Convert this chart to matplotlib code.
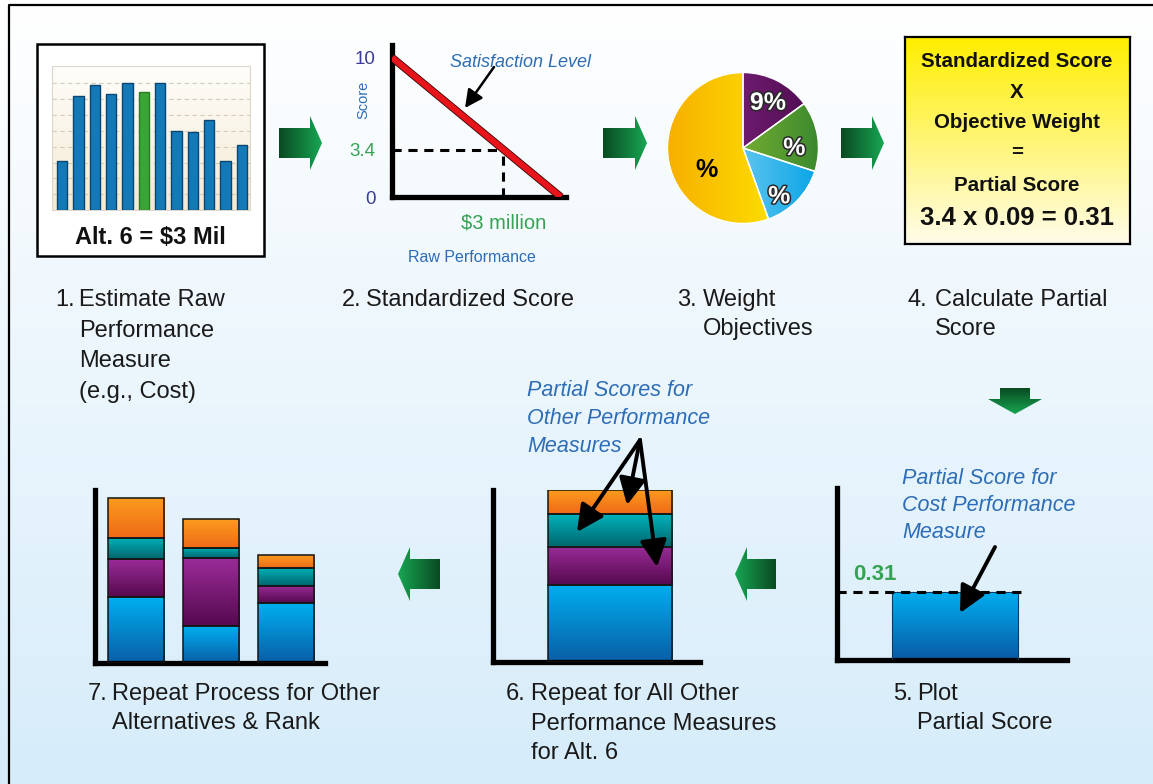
import matplotlib
matplotlib.use("Agg")
import matplotlib.pyplot as plt
import matplotlib.patheffects as pe
import numpy as np
from matplotlib.colors import to_rgba
from matplotlib.patches import Polygon, Rectangle

W, H = 1153, 784

# 1. raw performance (cost) per alternative
alt_ids = list(range(1, 13))
alt_cost = [3.1, 7.2, 7.9, 7.3, 8.0, 7.45, 8.0, 5.0, 4.9, 5.7, 3.1, 4.1]
sel_alt = 6
# 2. standardized score
score_max = 10
std_score = 3.4
# 3. objective weights
weights = [15, 15, 14.5, 55.5]
obj_weight = 0.09
weight_text = [f"{obj_weight * 100:.0f}%", "%", "%", "%"]
# 5. partial score for cost
partial = 0.31
# 6. partial scores of all measures for alt 6 (cost, m2, m3, m4)
alt6_parts = [0.31, 0.153, 0.129, 0.10]
# 7. partial scores for the other alternatives
alt_cost_ps = [0.266, 0.149, 0.242]
alt_m2_ps = [0.153, 0.274, 0.069]
alt_m3_ps = [0.085, 0.044, 0.073]
alt_m4_ps = [0.165, 0.117, 0.052]

SEG = [("#00aff0", "#0a5ea6"), ("#9a2c98", "#55094f"),
       ("#00b3bb", "#00656d"), ("#fc9c1e", "#ef6a18")]
NARROW = ["Liberation Sans"]
ARIAL = ["Liberation Sans"]
BLUE_TXT = "#2d6db5"
GREEN_TXT = "#35a353"
ARROW_DARK, ARROW_LIGHT = "#0a4a22", "#17a652"


def grad(c1, c2, n=128, vertical=True):
    a, b = np.array(to_rgba(c1)), np.array(to_rgba(c2))
    t = np.linspace(0, 1, n)[:, None]
    g = a * (1 - t) + b * t
    return g[:, None, :] if vertical else g[None, :, :]


def paint(ax, patch, img, extent, z):
    im = ax.imshow(img, extent=extent, origin="upper", aspect="auto",
                   interpolation="bilinear", zorder=z)
    im.set_clip_path(patch)
    return im


def shade_bars(ax, bars, top, bot):
    for b in bars:
        x, y, w, h = b.get_x(), b.get_y(), b.get_width(), b.get_height()
        paint(ax, b, grad(top, bot), (x, x + w, y, y + h), b.get_zorder() - 0.5)
        b.set_facecolor("none")


def stacked(ax, x, series, width):
    bottom = np.zeros(len(x))
    for vals, (top, bot) in zip(series, SEG):
        bars = ax.bar(x, vals, width, bottom=bottom, edgecolor="#151515",
                      lw=1.1, zorder=3)
        shade_bars(ax, bars, top, bot)
        bottom += np.array(vals)


def px_axes(x0, y0, x1, y1):
    return fig.add_axes([x0 / W, 1 - y1 / H, (x1 - x0) / W, (y1 - y0) / H])


def frame(ax):
    for s in ("top", "right"):
        ax.spines[s].set_visible(False)
    for s in ("left", "bottom"):
        ax.spines[s].set_linewidth(3.8)
        ax.spines[s].set_color("black")
        ax.spines[s].set_capstyle("projecting")
    ax.set_xticks([]); ax.set_yticks([])
    ax.patch.set_visible(False)


def block_arrow(ax, x0, x1, yc, direction="right", body=30, head=54, hl=12):
    if direction == "right":
        xs = x1 - hl
        pts = [(x0, yc - body / 2), (xs, yc - body / 2), (xs, yc - head / 2), (x1, yc),
               (xs, yc + head / 2), (xs, yc + body / 2), (x0, yc + body / 2)]
        img = grad(ARROW_DARK, ARROW_LIGHT, vertical=False)
    else:
        xs = x0 + hl
        pts = [(x1, yc - body / 2), (xs, yc - body / 2), (xs, yc - head / 2), (x0, yc),
               (xs, yc + head / 2), (xs, yc + body / 2), (x1, yc + body / 2)]
        img = grad(ARROW_LIGHT, ARROW_DARK, vertical=False)
    poly = Polygon(pts, closed=True, fc="none", ec="none")
    ax.add_patch(poly)
    paint(ax, poly, img, (x0, x1, yc + head / 2, yc - head / 2), 2)


def down_arrow(ax, xc, y0, y1, body=30, head=54, hl=15):
    ys = y1 - hl
    pts = [(xc - body / 2, y0), (xc + body / 2, y0), (xc + body / 2, ys), (xc + head / 2, ys),
           (xc, y1), (xc - head / 2, ys), (xc - body / 2, ys)]
    poly = Polygon(pts, closed=True, fc="none", ec="none")
    ax.add_patch(poly)
    paint(ax, poly, grad(ARROW_DARK, ARROW_LIGHT), (xc - head / 2, xc + head / 2, y1, y0), 2)


fig = plt.figure(figsize=(W / 100, H / 100), dpi=100)

# ---- background ----
bg = fig.add_axes([0, 0, 1, 1])
bg.axis("off")
bg.imshow(grad("#ffffff", "#d6ecfa"), extent=(0, W, H, 0), aspect="auto", origin="upper")
bg.add_patch(Rectangle((37, 44), 227, 212, fc="white", ec="black", lw=1.8, zorder=3))
bg.set_xlim(0, W); bg.set_ylim(H, 0)

# ---- 1. raw performance bar chart ----
ax1 = px_axes(52, 66, 250, 210)
ax1.imshow(grad("#fefdf9", "#f4ead3"), extent=(0.38, 12.5, 0, 9.1), aspect="auto", zorder=0)
cols = ["#3aa537" if a == sel_alt else "#147ab7" for a in alt_ids]
edges = ["#2a7a28" if a == sel_alt else "#0a4673" for a in alt_ids]
ax1.bar(alt_ids, alt_cost, 0.62, color=cols, edgecolor=edges, lw=1.0, zorder=3)
ax1.set_xlim(0.38, 12.5); ax1.set_ylim(0, 9.1)
ax1.set_yticks(range(1, 9)); ax1.set_xticks([])
ax1.yaxis.grid(True, ls=(0, (4, 3)), color="#d4ccbc", lw=0.8)
ax1.tick_params(length=0, labelleft=False)
for s in ax1.spines.values():
    s.set_color("#dcd7ca"); s.set_linewidth(0.8)

# ---- 2. standardized score ----
ax2 = px_axes(392, 45, 566, 197)
frame(ax2)
x_star = 1 - std_score / score_max
ax2.plot([0, 1], [score_max, 0], color="#e8141b", lw=4.4, solid_capstyle="butt",
         path_effects=[pe.Stroke(linewidth=5.6, foreground="#3a0505"), pe.Normal()], zorder=4)
ax2.plot([0, x_star], [std_score, std_score], color="black", lw=2.2, ls=(0, (3, 2.2)))
ax2.plot([x_star, x_star], [0, std_score], color="black", lw=2.2, ls=(0, (3, 2.2)))
ax2.set_xlim(0, 1.03); ax2.set_ylim(0, 10.9)
ax2.set_yticks([0, std_score, score_max], ["0", f"{std_score}", f"{score_max}"],
               fontsize=13.5, family=NARROW)
for lab, c in zip(ax2.get_yticklabels(), ["#3c3c96", GREEN_TXT, "#3c3c96"]):
    lab.set_color(c)
ax2.set_xticks([x_star], ["$3 million"], fontsize=14.5, family=NARROW, color=GREEN_TXT)
ax2.tick_params(length=0, pad=12)

# ---- 3. weights pie ----
axp = px_axes(666, 71, 820, 225)
wedges, _ = axp.pie(weights, startangle=90, counterclock=False, radius=1,
                    wedgeprops=dict(edgecolor="white", lw=1))
pie_cols = [("#8e2c8e", "#4c0b4e"), ("#a9ce36", "#3b892e"),
            ("#b0e4f8", "#07a4e6"), ("#f7b000", "#fff200")]
for wdg, (c1, c2) in zip(wedges, pie_cols):
    paint(axp, wdg, grad(c1, c2, vertical=False), (-1, 1, -1, 1), 0.9)
    wdg.set_facecolor("none")
axp.set_xlim(-1.02, 1.02); axp.set_ylim(-1.02, 1.02)
label_xy = [(0.33, 0.6), (0.68, 0.0), (0.48, -0.64), (-0.49, -0.29)]
shadow = [pe.withStroke(linewidth=2.2, foreground="#2a2a2a")]
for (lx, ly), s, col, fx in zip(label_xy, weight_text, ["white", "white", "white", "black"],
                                [shadow, shadow, shadow, None]):
    axp.text(lx, ly, s, ha="center", va="center", fontsize=18, fontweight="bold",
             family=ARIAL, color=col, path_effects=fx, zorder=5)

# ---- 4. yellow formula box ----
axy = px_axes(905, 37, 1130, 244)
axy.imshow(grad("#ffee00", "#fffcea"), extent=(0, 1, 0, 1), aspect="auto")
axy.set_xlim(0, 1); axy.set_ylim(0, 1)
axy.set_xticks([]); axy.set_yticks([])
for s in axy.spines.values():
    s.set_linewidth(1.6); s.set_color("black")

# ---- 5. plot partial score ----
ax5 = px_axes(837, 488, 1067, 660)
frame(ax5)
b5 = ax5.bar([0], [partial], 0.6, edgecolor="#0b3a66", lw=0.8, zorder=3)
shade_bars(ax5, b5, "#00aff0", "#0a5aa6")
ax5.axhline(partial, xmin=0, xmax=0.81, color="black", lw=2.2, ls=(0, (3, 2.2)), zorder=4)
ax5.text(-0.486, partial + 0.03, f"{partial:.2f}", fontsize=16, fontweight="bold",
         family=ARIAL, color=GREEN_TXT, va="bottom")
ax5.set_xlim(-0.562, 0.533); ax5.set_ylim(0, 0.784)

# ---- 6. all measures for alt 6 ----
ax6 = px_axes(493, 490, 700, 662)
frame(ax6)
stacked(ax6, [0], [[v] for v in alt6_parts], 0.6)
ax6.set_xlim(-0.566, 0.435); ax6.set_ylim(0, 0.69)

# ---- 7. other alternatives ----
ax7 = px_axes(95, 490, 325, 663)
frame(ax7)
stacked(ax7, np.arange(3), [alt_cost_ps, alt_m2_ps, alt_m3_ps, alt_m4_ps], 0.75)
ax7.set_xlim(-0.55, 2.52); ax7.set_ylim(0, 0.70)

# ---- overlay: arrows and text ----
ov = fig.add_axes([0, 0, 1, 1])
ov.axis("off")
ov.patch.set_visible(False)

for x0, x1 in [(279, 322), (603, 647), (841, 884)]:
    block_arrow(ov, x0, x1, 143)
for x0, x1 in [(398, 440), (735, 776)]:
    block_arrow(ov, x0, x1, 574, direction="left")
down_arrow(ov, 1015, 388, 414)

ov.plot([9, 9, W], [H, 5, 5], color="black", lw=1.6, solid_capstyle="butt")

ov.text(150, 237, f"Alt. {sel_alt} = $3 Mil", ha="center", va="center", fontsize=17,
        fontweight="bold", family=ARIAL, color="#111111")

ov.text(521, 62, "Satisfaction Level", ha="center", va="center", fontsize=13,
        style="italic", family=NARROW, color=BLUE_TXT)
ov.text(363, 100, "Score", ha="center", va="center", rotation=90, fontsize=10.5,
        family=NARROW, color=BLUE_TXT)
ov.text(472, 258, "Raw Performance", ha="center", va="center", fontsize=11.5,
        family=NARROW, color=BLUE_TXT)

box_lines = [("Standardized Score", 61, 14.8), ("X", 92, 14.8), ("Objective Weight", 122, 14.8),
             ("=", 152, 14.8), ("Partial Score", 185, 14.8),
             (f"{std_score} x {obj_weight:.2f} = {partial:.2f}", 218, 18.5)]
for s, y, fs in box_lines:
    ov.text(1017, y, s, ha="center", va="center", fontsize=fs, fontweight="bold",
            family=NARROW, color="#111111")


def italic_note(x, y0, lines, pitch=28):
    for i, s in enumerate(lines):
        ov.text(x, y0 + i * pitch, s, ha="left", va="baseline", fontsize=15.5,
                style="italic", family=NARROW, color=BLUE_TXT)


italic_note(527, 396, ["Partial Scores for", "Other Performance", "Measures"])
italic_note(902, 484, ["Partial Score for", "Cost Performance", "Measure"], pitch=27)


def step(x_num, x_body, y_base, num, lines, pitch=30.5):
    ov.text(x_num, y_base, num, ha="left", va="baseline", fontsize=17, family=NARROW,
            color="#1a1a1a")
    for i, s in enumerate(lines):
        ov.text(x_body, y_base + i * pitch, s, ha="left", va="baseline", fontsize=17,
                family=NARROW, color="#1a1a1a")


step(55, 79, 306, "1.", ["Estimate Raw", "Performance", "Measure", "(e.g., Cost)"])
step(342, 366, 306, "2.", ["Standardized Score"])
step(677, 703, 306, "3.", ["Weight", "Objectives"], pitch=29)
step(908, 935, 306, "4.", ["Calculate Partial", "Score"], pitch=29)
step(88, 112, 700, "7.", ["Repeat Process for Other", "Alternatives & Rank"], pitch=29)
step(506, 531, 700, "6.", ["Repeat for All Other", "Performance Measures", "for Alt. 6"], pitch=29.5)
step(893, 917, 700, "5.", ["Plot", "Partial Score"], pitch=29)

ap = dict(arrowstyle="-|>,head_length=0.9,head_width=0.45", lw=2.8, color="black",
          shrinkA=0, shrinkB=0, mutation_scale=18)
ap_small = dict(ap, lw=1.8, mutation_scale=12)
ov.annotate("", xy=(465, 108), xytext=(494, 67), arrowprops=ap_small)
for tip in [(577, 532), (627, 505), (657, 567)]:
    ov.annotate("", xy=tip, xytext=(640, 440), arrowprops=ap)
ov.annotate("", xy=(960, 613), xytext=(995, 547), arrowprops=ap)

ov.set_xlim(0, W); ov.set_ylim(H, 0)

fig.savefig("out.png", dpi=100)
